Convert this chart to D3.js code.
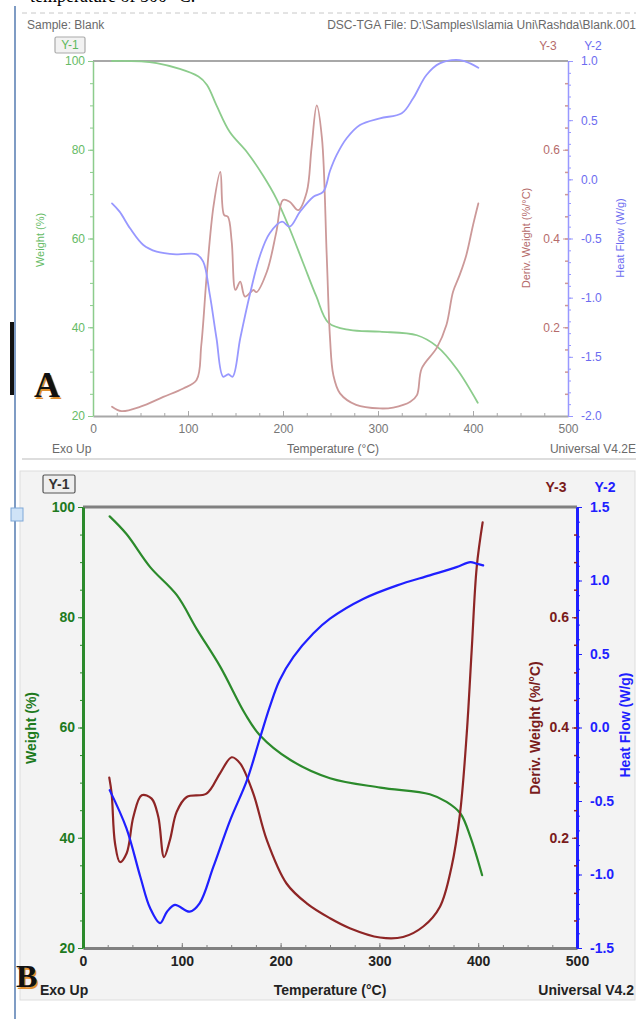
<!DOCTYPE html>
<html>
<head>
<meta charset="utf-8">
<script src="https://cdn.jsdelivr.net/npm/d3@7"></script>
<style>
  body { margin: 0; background: #fff; }
  svg { display: block; }
</style>
</head>
<body>
<svg id="chart" width="639" height="1019"></svg>
<script>
// tick labels
const xTicks = [0, 100, 200, 300, 400, 500];
const weightTicks = [20, 40, 60, 80, 100];
const derivTicks = [0.2, 0.4, 0.6];
const heatTicksA = [1.0, 0.5, 0.0, -0.5, -1.0, -1.5, -2.0];
const heatTicksB = [1.5, 1.0, 0.5, 0.0, -0.5, -1.0, -1.5];

// panel A (blank)
const tempA_weight = [20, 67, 111, 120, 130, 144, 162, 179, 193, 207, 221, 235, 248, 270, 302, 341, 362, 383, 405];
const weightA = [100, 99.5, 96.5, 94.6, 90, 84, 79.5, 74.2, 69, 62.2, 54.6, 47, 41, 39.4, 39, 38.2, 35.7, 30.6, 23];

const tempA_deriv = [20, 30, 50, 74, 95, 109, 114, 120, 127, 134, 138, 142, 146, 150, 155, 160, 169, 172, 183, 193, 200, 207, 216, 225, 230, 235.5, 241, 246, 249.5, 253, 260, 277, 302, 316, 334, 341, 346, 362, 372, 379, 386, 393, 400, 405.6];
const derivA = [0.021, 0.011, 0.021, 0.043, 0.062, 0.081, 0.16, 0.325, 0.475, 0.55, 0.453, 0.449, 0.393, 0.284, 0.303, 0.269, 0.284, 0.279, 0.325, 0.415, 0.487, 0.483, 0.464, 0.505, 0.603, 0.70, 0.626, 0.363, 0.175, 0.092, 0.051, 0.025, 0.017, 0.019, 0.032, 0.047, 0.107, 0.154, 0.205, 0.28, 0.318, 0.363, 0.43, 0.479];

const tempA_heat = [20, 28, 39, 53, 67, 88, 109, 116, 123, 130, 137, 142.5, 147, 155, 165, 176, 186, 199, 207, 218, 232, 242.5, 249.5, 256.5, 267, 281, 302, 325, 337, 351, 365, 386, 397, 405.6];
const heatA = [-0.203, -0.273, -0.414, -0.555, -0.611, -0.634, -0.634, -0.696, -0.977, -1.343, -1.668, -1.647, -1.668, -1.343, -0.977, -0.639, -0.456, -0.358, -0.4, -0.273, -0.147, -0.104, 0.072, 0.206, 0.347, 0.459, 0.516, 0.558, 0.685, 0.882, 0.98, 1.008, 0.98, 0.943];

// panel B
const tempB_weight = [27, 44, 68, 95, 115, 139, 164, 179, 210, 250, 301, 351, 368, 382, 392, 404];
const weightB = [98.3, 95.1, 89.1, 84, 77.9, 71, 62.5, 58.6, 54.1, 50.8, 49.1, 47.9, 46.5, 44.4, 40.2, 33.2];

const tempB_deriv = [26.6, 29, 32.4, 37.4, 44.2, 51, 59.4, 69.5, 76.2, 82, 88, 94.8, 105, 125, 138.7, 150.5, 159, 172.4, 186, 206, 226.4, 250, 270, 300.6, 324, 344.4, 361.3, 373, 381.6, 388.4, 393.4, 398.5, 404.5];
const derivB = [0.309, 0.28, 0.19, 0.156, 0.172, 0.238, 0.277, 0.271, 0.238, 0.165, 0.196, 0.247, 0.274, 0.28, 0.317, 0.346, 0.335, 0.28, 0.196, 0.117, 0.081, 0.054, 0.036, 0.019, 0.02, 0.039, 0.075, 0.147, 0.244, 0.389, 0.54, 0.691, 0.772];

const tempB_heat = [27, 44, 58, 68, 78, 85, 93, 108, 118, 132, 149, 166, 179, 189, 199, 213, 233, 250, 284, 318, 351, 378, 392, 398.5, 405];
const heatB = [-0.426, -0.686, -1.015, -1.23, -1.331, -1.253, -1.207, -1.253, -1.196, -0.947, -0.63, -0.358, -0.075, 0.14, 0.321, 0.48, 0.639, 0.74, 0.876, 0.967, 1.035, 1.091, 1.125, 1.114, 1.103];

const svg = d3.select('#chart');
const zip = (a, b) => a.map((t, i) => [t, b[i]]);
const fmt1 = d => d.toFixed(1);

// page decorations (the picture is a crop of a page)
svg.append('text').attr('x', 30).attr('y', 2)
  .attr('font-family', 'Liberation Serif, Times New Roman, serif').attr('font-size', 18)
  .text('temperature of 500 °C.');
svg.append('line').attr('x1', 22).attr('x2', 636).attr('y1', 13).attr('y2', 13)
  .attr('stroke', '#c8c8c8').attr('stroke-dasharray', '5,4');
svg.append('line').attr('x1', 15).attr('x2', 15).attr('y1', 6).attr('y2', 1019)
  .attr('stroke', '#7f9cc4').attr('stroke-width', 2);
svg.append('rect').attr('x', 10).attr('y', 322).attr('width', 4).attr('height', 73).attr('fill', '#111');
svg.append('line').attr('x1', 22).attr('x2', 636).attr('y1', 459).attr('y2', 459)
  .attr('stroke', '#bbb');
svg.append('rect').attr('x', 20).attr('y', 471).attr('width', 615).attr('height', 529)
  .attr('fill', '#f3f3f3').attr('stroke', '#ddd');
svg.append('rect').attr('x', 11).attr('y', 508).attr('width', 12).attr('height', 13)
  .attr('fill', '#cfe3f7').attr('stroke', '#7fa8d8');

function drawPanel(c) {
  const g = svg.append('g');
  const x = d3.scaleLinear().domain([0, 500]).range([c.left, c.right]);
  const yW = d3.scaleLinear().domain([20, 100]).range([c.bottom, c.top]);
  const yH = d3.scaleLinear().domain(c.heatDomain).range([c.bottom, c.top]);
  const yD = d3.scaleLinear().domain([0, 0.8]).range([c.bottom, c.top]);
  const font = c.font;

  const styleText = (sel, color) => sel.selectAll('text')
    .attr('font-family', font).attr('font-size', c.tickSize)
    .attr('font-weight', c.weight).attr('fill', color);

  // top frame line
  g.append('line').attr('x1', c.left).attr('x2', c.right).attr('y1', c.top).attr('y2', c.top)
    .attr('stroke', c.frame).attr('stroke-width', c.frameW);

  // bottom axis
  const xMinor = g.append('g').attr('transform', `translate(0,${c.bottom})`)
    .call(d3.axisBottom(x).tickValues(d3.range(0, 501, 25)).tickSizeInner(-3).tickSizeOuter(0).tickFormat(''));
  xMinor.select('.domain').attr('stroke', c.frame).attr('stroke-width', c.frameW);
  xMinor.selectAll('.tick line').attr('stroke', c.frame);
  const xAx = g.append('g').attr('transform', `translate(0,${c.bottom})`)
    .call(d3.axisBottom(x).tickValues(xTicks).tickSizeInner(-5).tickSizeOuter(0).tickPadding(8));
  xAx.select('.domain').remove();
  xAx.selectAll('.tick line').attr('stroke', c.frame);
  styleText(xAx, c.textColor);

  // left weight axis
  const wMinor = g.append('g').attr('transform', `translate(${c.left},0)`)
    .call(d3.axisLeft(yW).tickValues(d3.range(20, 101, 5)).tickSizeInner(3).tickSizeOuter(0).tickFormat(''));
  wMinor.select('.domain').attr('stroke', c.wColor).attr('stroke-width', c.axisW);
  wMinor.selectAll('.tick line').attr('stroke', c.wColor);
  const wAx = g.append('g').attr('transform', `translate(${c.left},0)`)
    .call(d3.axisLeft(yW).tickValues(weightTicks).tickSizeInner(5).tickSizeOuter(0).tickPadding(3));
  wAx.select('.domain').remove();
  wAx.selectAll('.tick line').attr('stroke', c.wColor);
  styleText(wAx, c.wText);

  // right heat flow axis
  const hMinor = g.append('g').attr('transform', `translate(${c.right},0)`)
    .call(d3.axisRight(yH).tickValues(d3.range(c.heatDomain[0], c.heatDomain[1] + 0.01, 0.1)).tickSizeInner(3).tickSizeOuter(0).tickFormat(''));
  hMinor.select('.domain').attr('stroke', c.hColor).attr('stroke-width', c.axisW);
  hMinor.selectAll('.tick line').attr('stroke', c.hColor);
  const hAx = g.append('g').attr('transform', `translate(${c.right},0)`)
    .call(d3.axisRight(yH).tickValues(c.heatTicks).tickSizeInner(5).tickSizeOuter(0).tickPadding(8).tickFormat(fmt1));
  hAx.select('.domain').remove();
  hAx.selectAll('.tick line').attr('stroke', c.hColor);
  styleText(hAx, c.hText);

  // deriv axis shares the right edge
  const dMinor = g.append('g').attr('transform', `translate(${c.right},0)`)
    .call(d3.axisLeft(yD).tickValues(d3.range(0.05, 0.8, 0.05)).tickSizeInner(3).tickSizeOuter(0).tickFormat(''));
  dMinor.select('.domain').remove();
  dMinor.selectAll('.tick line').attr('stroke', c.dColor).attr('stroke-width', 1.5);
  const dAx = g.append('g').attr('transform', `translate(${c.right},0)`)
    .call(d3.axisLeft(yD).tickValues(derivTicks).tickSizeInner(5).tickSizeOuter(0).tickPadding(3).tickFormat(fmt1));
  dAx.select('.domain').remove();
  dAx.selectAll('.tick line').attr('stroke', c.dColor);
  styleText(dAx, c.dText);

  // curves
  const line = y => d3.line().x(d => x(d[0])).y(d => y(d[1])).curve(d3.curveCatmullRom.alpha(0.5));
  const series = [
    [zip(c.tw, c.w), yW, c.wColor],
    [zip(c.td, c.d), yD, c.dColor],
    [zip(c.th, c.h), yH, c.hColor]
  ];
  series.forEach(([pts, y, col]) => {
    g.append('path').datum(pts).attr('d', line(y))
      .attr('fill', 'none').attr('stroke', col).attr('stroke-width', c.lineW)
      .attr('stroke-linejoin', 'round').attr('stroke-linecap', 'round');
  });

  // texts
  const txt = (x0, y0, s, col, anchor, size) => g.append('text').attr('x', x0).attr('y', y0).text(s)
    .attr('font-family', font).attr('font-size', size || c.tickSize)
    .attr('font-weight', c.weight).attr('fill', col).attr('text-anchor', anchor || 'start');
  c.labels.forEach(l => txt(...l));

  // Y-1 box
  g.append('rect').attr('x', c.y1Box[0]).attr('y', c.y1Box[1]).attr('width', c.y1Box[2]).attr('height', c.y1Box[3])
    .attr('fill', c.boxFill).attr('stroke', c.boxStroke).attr('stroke-width', 1.2).attr('rx', 1.5);
  txt(c.y1Box[0] + c.y1Box[2] / 2, c.y1Box[1] + c.y1Box[3] - 4, 'Y-1', c.y1Text, 'middle');

  // rotated axis titles
  c.titles.forEach(([cx, cy, s, col, size]) => {
    g.append('text').attr('transform', `translate(${cx},${cy}) rotate(-90)`)
      .attr('text-anchor', 'middle').attr('font-family', font).attr('font-size', size)
      .attr('font-weight', c.weight).attr('fill', col).text(s);
  });

  // big panel letter
  g.append('text').attr('x', c.letter[0] + 1.5).attr('y', c.letter[1] + 1.5).text(c.letter[2])
    .attr('font-family', 'Liberation Serif, Times New Roman, serif').attr('font-weight', 'bold')
    .attr('font-size', c.letter[3]).attr('fill', '#e09030');
  g.append('text').attr('x', c.letter[0]).attr('y', c.letter[1]).text(c.letter[2])
    .attr('font-family', 'Liberation Serif, Times New Roman, serif').attr('font-weight', 'bold')
    .attr('font-size', c.letter[3]).attr('fill', '#111');
}

drawPanel({
  left: 93, right: 568, top: 61, bottom: 416,
  heatDomain: [-2, 1], heatTicks: heatTicksA,
  tw: tempA_weight, w: weightA, td: tempA_deriv, d: derivA, th: tempA_heat, h: heatA,
  font: 'Liberation Sans, Arial, sans-serif', weight: 'normal', tickSize: 12,
  frame: '#a8a8a8', frameW: 2, axisW: 1.5, lineW: 1.8,
  wColor: '#8ccc8c', hColor: '#9898ff', dColor: '#cc9999',
  wText: '#66bb66', hText: '#6c6cf0', dText: '#b56b6b', textColor: '#777',
  boxFill: '#f2f2f2', boxStroke: '#aaa', y1Box: [55, 37, 30, 16], y1Text: '#5cb85c',
  labels: [
    [27, 29, 'Sample: Blank', '#6a6a6a'],
    [636, 29, 'DSC-TGA File: D:\\Samples\\Islamia Uni\\Rashda\\Blank.001', '#6a6a6a', 'end'],
    [548, 50, 'Y-3', '#b56b6b', 'middle'],
    [593, 50, 'Y-2', '#6c6cf0', 'middle'],
    [52, 453, 'Exo Up', '#6a6a6a'],
    [333, 453, 'Temperature (°C)', '#6a6a6a', 'middle'],
    [636, 453, 'Universal V4.2E', '#6a6a6a', 'end']
  ],
  titles: [
    [44, 240, 'Weight (%)', '#66bb66', 11],
    [530, 238, 'Deriv. Weight (%/°C)', '#b56b6b', 11],
    [624, 238, 'Heat Flow (W/g)', '#6c6cf0', 11]
  ],
  letter: [34, 397, 'A', 36]
});

drawPanel({
  left: 83, right: 577, top: 507, bottom: 948,
  heatDomain: [-1.5, 1.5], heatTicks: heatTicksB,
  tw: tempB_weight, w: weightB, td: tempB_deriv, d: derivB, th: tempB_heat, h: heatB,
  font: 'Liberation Sans Narrow, Arial Narrow, Arial, sans-serif', weight: 'bold', tickSize: 14,
  frame: '#808080', frameW: 3, axisW: 3, lineW: 2.2,
  wColor: '#2b8a2b', hColor: '#1f1fff', dColor: '#8e2525',
  wText: '#1e7a1e', hText: '#1f1fff', dText: '#7a1c1c', textColor: '#222',
  boxFill: '#eeeeee', boxStroke: '#555', y1Box: [43, 475, 32, 18], y1Text: '#333',
  labels: [
    [556, 492, 'Y-3', '#7a1c1c', 'middle'],
    [605, 492, 'Y-2', '#1f1fff', 'middle'],
    [40, 995, 'Exo Up', '#222'],
    [330, 995, 'Temperature (°C)', '#222', 'middle'],
    [634, 995, 'Universal V4.2', '#222', 'end']
  ],
  titles: [
    [36, 728, 'Weight (%)', '#1e7a1e', 14],
    [540, 728, 'Deriv. Weight (%/°C)', '#7a1c1c', 14],
    [630, 725, 'Heat Flow (W/g)', '#1f1fff', 14]
  ],
  letter: [16, 987, 'B', 32]
});
</script>
</body>
</html>
